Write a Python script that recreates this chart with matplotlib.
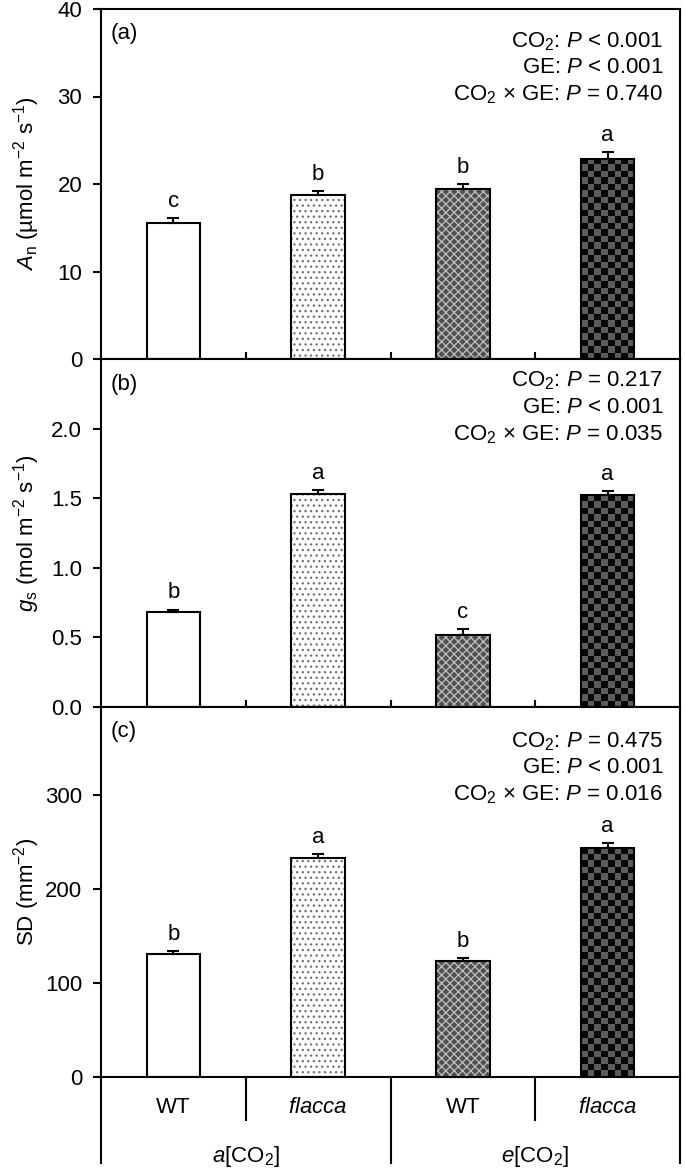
import numpy as np
import matplotlib
matplotlib.use('Agg')
import matplotlib.pyplot as plt
from matplotlib.colors import ListedColormap
from matplotlib.transforms import blended_transform_factory

plt.rcParams['font.family'] = ['Liberation Sans', 'DejaVu Sans']
plt.rcParams['mathtext.fontset'] = 'custom'
plt.rcParams['mathtext.rm'] = 'Liberation Sans'
plt.rcParams['mathtext.it'] = 'Liberation Sans:italic'
plt.rcParams['hatch.linewidth'] = 0.9

# данные
genotypes = ['WT', '$flacca$', 'WT', '$flacca$']
co2_groups = ['$a$[CO$_2$]', '$e$[CO$_2$]']

an_mean = [15.6, 18.7, 19.4, 22.9]
an_se = [0.5, 0.5, 0.6, 0.8]
an_letters = ['c', 'b', 'b', 'a']
an_stats = ['CO$_2$: $P$ < 0.001', 'GE: $P$ < 0.001', 'CO$_2$ × GE: $P$ = 0.740']

gs_mean = [0.68, 1.53, 0.52, 1.52]
gs_se = [0.02, 0.03, 0.04, 0.03]
gs_letters = ['b', 'a', 'c', 'a']
gs_stats = ['CO$_2$: $P$ = 0.217', 'GE: $P$ < 0.001', 'CO$_2$ × GE: $P$ = 0.035']

sd_mean = [131, 233, 124, 244]
sd_se = [3, 4, 3, 5]
sd_letters = ['b', 'a', 'b', 'a']
sd_stats = ['CO$_2$: $P$ = 0.475', 'GE: $P$ < 0.001', 'CO$_2$ × GE: $P$ = 0.016']

W, H = 685, 1172
fig = plt.figure(figsize=(W / 100, H / 100), dpi=100)


def px_axes(left, top, right, bottom):
    return fig.add_axes([left / W, 1 - bottom / H, (right - left) / W, (bottom - top) / H])


x = np.arange(4)
bw = 0.37
fs = 16


def draw_panel(ax, means, ses, letters, stats, ylim, yticks, fmt, label, ylabel, px_h, stat_base):
    ax.set_xlim(-0.5, 3.5)
    ax.set_ylim(*ylim)
    ppu = px_h / (ylim[1] - ylim[0])
    # 1: белый
    ax.bar(x[0], means[0], bw, color='white', edgecolor='black', lw=1.5, zorder=2)
    # 2: точки
    ax.bar(x[1], means[1], bw, color='white', edgecolor='#707070', hatch='...', lw=0, zorder=1)
    ax.bar(x[1], means[1], bw, fill=False, edgecolor='black', lw=1.5, zorder=2.5)
    # 3: сетка
    ax.bar(x[2], means[2], bw, color='#505050', edgecolor='#c0c0c0', hatch='xxxx', lw=0, zorder=1)
    ax.bar(x[2], means[2], bw, fill=False, edgecolor='black', lw=1.5, zorder=2.5)
    # 4: шахматка
    nrows = max(1, int(round(means[3] * ppu / 6.5)))
    arr = np.add.outer(np.arange(nrows), np.arange(8)) % 2
    ax.imshow(arr, extent=(x[3] - bw / 2, x[3] + bw / 2, 0, means[3]),
              cmap=ListedColormap(['#050505', '#5c5c5c']), interpolation='nearest',
              aspect='auto', origin='lower', zorder=1)
    ax.bar(x[3], means[3], bw, fill=False, edgecolor='black', lw=1.5, zorder=2.5)
    ax.set_xlim(-0.5, 3.5)
    ax.set_ylim(*ylim)

    ax.errorbar(x, means, yerr=[np.zeros(4), ses], fmt='none', ecolor='black',
                elinewidth=1.5, capsize=4, capthick=1.5, zorder=3)
    for xi, m, s, l in zip(x, means, ses, letters):
        ax.annotate(l, (xi, m + s), xytext=(0, 8), textcoords='offset points',
                    ha='center', va='baseline', fontsize=fs)

    for i, s in enumerate(stats):
        ax.text(0.9706, 1 - stat_base[i] / px_h, s, transform=ax.transAxes,
                ha='right', va='baseline', fontsize=fs)
    ax.text(0.016, 1 - 25 / px_h, label, transform=ax.transAxes, ha='left',
            va='center', fontsize=fs)

    ax.set_yticks(yticks)
    ax.set_yticklabels([fmt.format(t) for t in yticks], fontsize=fs)
    ax.set_ylabel(ylabel, fontsize=fs)
    ax.yaxis.set_label_coords(-0.102, 0.5)
    ax.tick_params(axis='y', direction='out', length=5.5, width=1.5, pad=8)
    for sp in ax.spines.values():
        sp.set_linewidth(1.5)


ax1 = px_axes(101, 9, 680, 359)
draw_panel(ax1, an_mean, an_se, an_letters, an_stats, (0, 40), [0, 10, 20, 30, 40], '{:g}',
           '(a)', '$A$$_\\mathrm{n}$ (µmol m$^{-2}$ s$^{-1}$)', 350, [38, 64, 91])

ax2 = px_axes(101, 359, 680, 707)
draw_panel(ax2, gs_mean, gs_se, gs_letters, gs_stats, (0, 2.5), [0, 0.5, 1.0, 1.5, 2.0], '{:.1f}',
           '(b)', '$g$$_\\mathrm{s}$ (mol m$^{-2}$ s$^{-1}$)', 348, [27, 54, 81])

ax3 = px_axes(101, 707, 680, 1077)
draw_panel(ax3, sd_mean, sd_se, sd_letters, sd_stats, (0, 394), [0, 100, 200, 300], '{:g}',
           '(c)', 'SD (mm$^{-2}$)', 370, [40, 66, 93])

for ax in (ax1, ax2):
    ax.set_xticks([0.5, 1.5, 2.5])
    ax.tick_params(axis='x', direction='inout', length=10, width=1.5, labelbottom=False)
ax3.set_xticks([])

# подписи категорий снизу
tr = blended_transform_factory(ax3.transData, ax3.transAxes)
ph = 370
for xs in [0.5, 2.5]:
    ax3.plot([xs, xs], [0, -43 / ph], transform=tr, color='black', lw=1.5, clip_on=False)
for xs in [-0.5, 1.5, 3.5]:
    ax3.plot([xs, xs], [0, -86 / ph], transform=tr, color='black', lw=1.5, clip_on=False)
for xi, g in zip(x, genotypes):
    ax3.text(xi, -36 / ph, g, transform=tr, ha='center', va='baseline', fontsize=fs)
for xi, g in zip([0.5, 2.5], co2_groups):
    ax3.text(xi, -85 / ph, g, transform=tr, ha='center', va='baseline', fontsize=fs)

fig.savefig('out.png', dpi=100)
